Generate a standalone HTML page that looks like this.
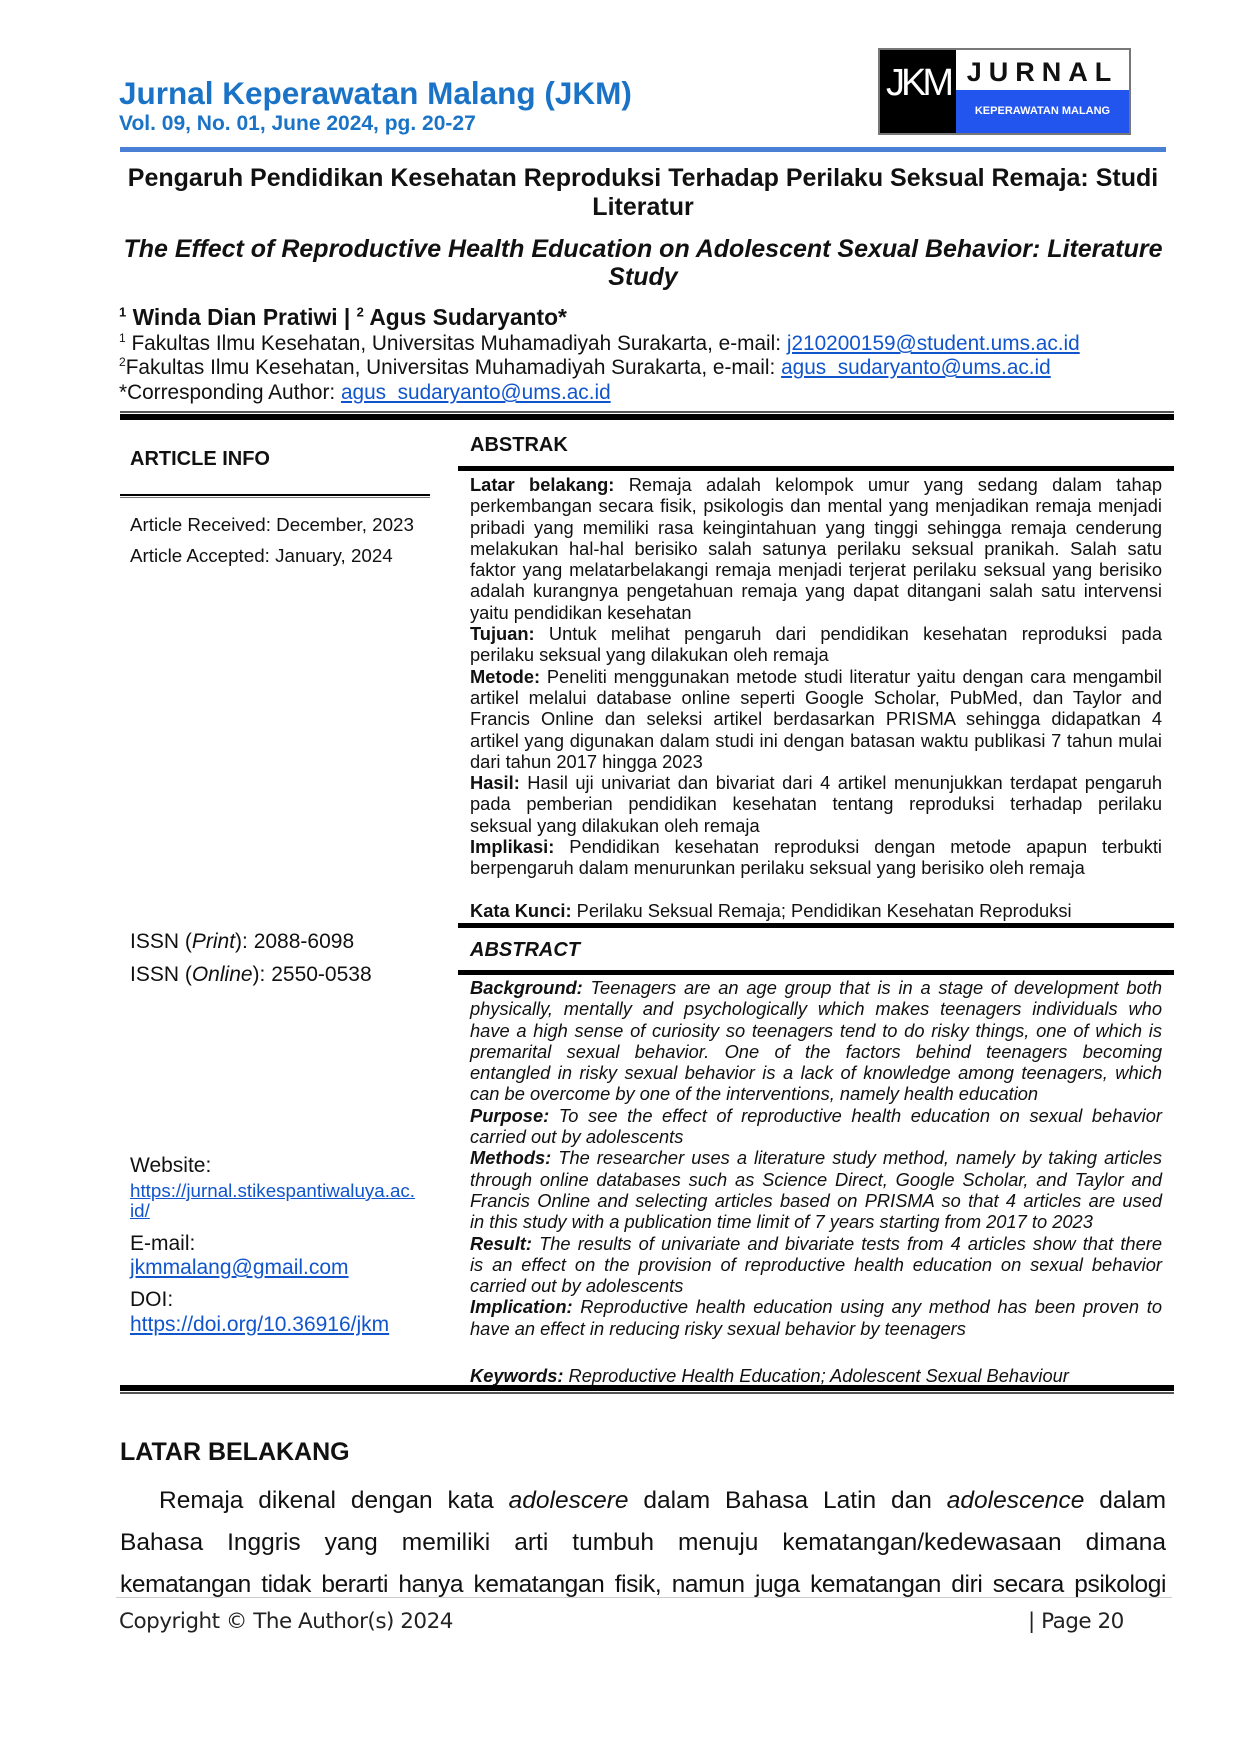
<!DOCTYPE html>
<html><head><meta charset="utf-8">
<style>
*{margin:0;padding:0;box-sizing:border-box}
body{width:1240px;height:1754px;background:#fff;position:relative;font-family:"Liberation Sans",Arial,sans-serif;color:#111;overflow:hidden}
.a{position:absolute;white-space:nowrap}
.blk{position:absolute;left:470px;width:692px;font-size:18.3px;line-height:21.3px}
.blk div{text-align:justify;text-align-last:justify;white-space:nowrap}
.blk div.l{text-align-last:left}
.it{font-style:italic}
a,.lnk{color:#1155cc;text-decoration:underline}
.ln{position:absolute;background:#000}
</style></head><body>
<div class="a" style="left:119px;top:75px;font-size:31.5px;font-weight:bold;color:#1a73c6">Jurnal Keperawatan Malang (JKM)</div>
<div class="a" style="left:119px;top:112px;font-size:21px;font-weight:bold;color:#1a73c6">Vol. 09, No. 01, June 2024, pg. 20-27</div>
<div style="position:absolute;left:878px;top:48px;width:253px;height:87px;border:2px solid #777;background:#000">
 <div style="position:absolute;left:76px;top:0;right:0;height:40px;background:#fff;font-weight:bold;font-size:27px;letter-spacing:7px;text-align:center;line-height:44px;color:#111">JURNAL</div>
 <div style="position:absolute;left:76px;top:40px;right:0;bottom:0;background:#2255ee;color:#fff;font-size:11px;font-weight:bold;text-align:center;line-height:43px">KEPERAWATAN MALANG</div>
 <div style="position:absolute;left:0;top:12px;width:76px;color:#fff;font-size:38px;letter-spacing:-4px;text-align:center">JKM</div>
</div>
<div class="ln" style="left:120px;top:147px;width:1046px;height:5px;background:#4a7fd6"></div>
<div class="a" style="left:80px;width:1126px;text-align:center;top:164px;font-size:25px;font-weight:bold;line-height:29px">Pengaruh Pendidikan Kesehatan Reproduksi Terhadap Perilaku Seksual Remaja: Studi<br>Literatur</div>
<div class="a" style="left:80px;width:1126px;text-align:center;top:235px;font-size:25px;font-weight:bold;font-style:italic;line-height:28px">The Effect of Reproductive Health Education on Adolescent Sexual Behavior: Literature<br>Study</div>
<div class="a" style="left:119px;top:304px;font-size:22.8px;font-weight:bold"><sup style="font-size:13px">1</sup> Winda Dian Pratiwi | <sup style="font-size:13px">2</sup> Agus Sudaryanto*</div>
<div class="a" style="left:119px;top:331px;font-size:20.8px"><sup style="font-size:12px">1</sup> Fakultas Ilmu Kesehatan, Universitas Muhamadiyah Surakarta, e-mail: <span class="lnk">j210200159@student.ums.ac.id</span></div>
<div class="a" style="left:119px;top:355px;font-size:20.8px"><sup style="font-size:12px">2</sup>Fakultas Ilmu Kesehatan, Universitas Muhamadiyah Surakarta, e-mail: <span class="lnk">agus_sudaryanto@ums.ac.id</span></div>
<div class="a" style="left:119px;top:381px;font-size:20.8px">*Corresponding Author: <span class="lnk">agus_sudaryanto@ums.ac.id</span></div>
<div class="ln" style="left:120px;top:411px;width:1054px;height:2px;background:#555"></div>
<div class="ln" style="left:120px;top:414px;width:1054px;height:6px"></div>

<div class="a" style="left:130px;top:448px;font-size:20px;font-weight:bold">ARTICLE INFO</div>
<div class="ln" style="left:120px;top:494px;width:310px;height:2px"></div>
<div class="ln" style="left:120px;top:497px;width:310px;height:1px;background:#777"></div>
<div class="a" style="left:130px;top:514px;font-size:18.8px">Article Received: December, 2023</div>
<div class="a" style="left:130px;top:545px;font-size:18.8px">Article Accepted: January, 2024</div>

<div class="a" style="left:470px;top:434px;font-size:20px;font-weight:bold">ABSTRAK</div>
<div class="ln" style="left:458px;top:466px;width:716px;height:5px"></div>
<div class="blk" style="top:474px">
<div><b>Latar belakang:</b> Remaja adalah kelompok umur yang sedang dalam tahap</div>
<div>perkembangan secara fisik, psikologis dan mental yang menjadikan remaja menjadi</div>
<div>pribadi yang memiliki rasa keingintahuan yang tinggi sehingga remaja cenderung</div>
<div>melakukan hal-hal berisiko salah satunya perilaku seksual pranikah. Salah satu</div>
<div>faktor yang melatarbelakangi remaja menjadi terjerat perilaku seksual yang berisiko</div>
<div>adalah kurangnya pengetahuan remaja yang dapat ditangani salah satu intervensi</div>
<div class="l">yaitu pendidikan kesehatan</div>
<div><b>Tujuan:</b> Untuk melihat pengaruh dari pendidikan kesehatan reproduksi pada</div>
<div class="l">perilaku seksual yang dilakukan oleh remaja</div>
<div><b>Metode:</b> Peneliti menggunakan metode studi literatur yaitu dengan cara mengambil</div>
<div>artikel melalui database online seperti Google Scholar, PubMed, dan Taylor and</div>
<div>Francis Online dan seleksi artikel berdasarkan PRISMA sehingga didapatkan 4</div>
<div>artikel yang digunakan dalam studi ini dengan batasan waktu publikasi 7 tahun mulai</div>
<div class="l">dari tahun 2017 hingga 2023</div>
<div><b>Hasil:</b> Hasil uji univariat dan bivariat dari 4 artikel menunjukkan terdapat pengaruh</div>
<div>pada pemberian pendidikan kesehatan tentang reproduksi terhadap perilaku</div>
<div class="l">seksual yang dilakukan oleh remaja</div>
<div><b>Implikasi:</b> Pendidikan kesehatan reproduksi dengan metode apapun terbukti</div>
<div class="l">berpengaruh dalam menurunkan perilaku seksual yang berisiko oleh remaja</div>
</div>
<div class="a" style="left:470px;top:900px;font-size:18.3px"><b>Kata Kunci:</b> Perilaku Seksual Remaja; Pendidikan Kesehatan Reproduksi</div>
<div class="ln" style="left:458px;top:923px;width:716px;height:5px"></div>

<div class="a" style="left:130px;top:930px;font-size:21px">ISSN (<i>Print</i>): 2088-6098</div>
<div class="a" style="left:130px;top:963px;font-size:21px">ISSN (<i>Online</i>): 2550-0538</div>
<div class="a" style="left:470px;top:939px;font-size:20px;font-weight:bold;font-style:italic">ABSTRACT</div>
<div class="ln" style="left:458px;top:970px;width:716px;height:5px"></div>
<div class="blk it" style="top:977px">
<div><b>Background:</b> Teenagers are an age group that is in a stage of development both</div>
<div>physically, mentally and psychologically which makes teenagers individuals who</div>
<div>have a high sense of curiosity so teenagers tend to do risky things, one of which is</div>
<div>premarital sexual behavior. One of the factors behind teenagers becoming</div>
<div>entangled in risky sexual behavior is a lack of knowledge among teenagers, which</div>
<div class="l">can be overcome by one of the interventions, namely health education</div>
<div><b>Purpose:</b> To see the effect of reproductive health education on sexual behavior</div>
<div class="l">carried out by adolescents</div>
<div><b>Methods:</b> The researcher uses a literature study method, namely by taking articles</div>
<div>through online databases such as Science Direct, Google Scholar, and Taylor and</div>
<div>Francis Online and selecting articles based on PRISMA so that 4 articles are used</div>
<div class="l">in this study with a publication time limit of 7 years starting from 2017 to 2023</div>
<div><b>Result:</b> The results of univariate and bivariate tests from 4 articles show that there</div>
<div>is an effect on the provision of reproductive health education on sexual behavior</div>
<div class="l">carried out by adolescents</div>
<div><b>Implication:</b> Reproductive health education using any method has been proven to</div>
<div class="l">have an effect in reducing risky sexual behavior by teenagers</div>
</div>
<div class="a it" style="left:470px;top:1365px;font-size:18.3px"><b>Keywords:</b> Reproductive Health Education; Adolescent Sexual Behaviour</div>

<div class="a" style="left:130px;top:1154px;font-size:21px">Website:</div>
<div class="a lnk" style="left:130px;top:1180px;font-size:18.8px">https://jurnal.stikespantiwaluya.ac.</div>
<div class="a lnk" style="left:130px;top:1200px;font-size:18.8px">id/</div>
<div class="a" style="left:130px;top:1232px;font-size:21px">E-mail:</div>
<div class="a lnk" style="left:130px;top:1256px;font-size:21px">jkmmalang@gmail.com</div>
<div class="a" style="left:130px;top:1288px;font-size:21px">DOI:</div>
<div class="a lnk" style="left:130px;top:1313px;font-size:21px">https://doi.org/10.36916/jkm</div>

<div class="ln" style="left:120px;top:1385px;width:1054px;height:6px"></div>
<div class="ln" style="left:120px;top:1392px;width:1054px;height:2px;background:#555"></div>

<div class="a" style="left:120px;top:1438px;font-size:25px;font-weight:bold">LATAR BELAKANG</div>
<div style="position:absolute;left:120px;width:1046px;top:1480px;font-size:24.5px;line-height:42px">
<div style="text-align:justify;text-align-last:justify;white-space:nowrap;padding-left:39px">Remaja dikenal dengan kata <i>adolescere</i> dalam Bahasa Latin dan <i>adolescence</i> dalam</div>
<div style="text-align:justify;text-align-last:justify;white-space:nowrap">Bahasa Inggris yang memiliki arti tumbuh menuju kematangan/kedewasaan dimana</div>
<div style="text-align:justify;text-align-last:justify;white-space:nowrap;letter-spacing:-0.4px">kematangan tidak berarti hanya kematangan fisik, namun juga kematangan diri secara psikologi</div>
</div>
<div class="ln" style="left:116px;top:1597px;width:1056px;height:1px;background:#ccc"></div>
<div class="a" style="left:119px;top:1609px;font-size:21.5px;font-family:'DejaVu Sans',sans-serif;letter-spacing:-0.5px;color:#222">Copyright © The Author(s) 2024</div>
<div class="a" style="left:1028px;top:1609px;font-size:21.5px;font-family:'DejaVu Sans',sans-serif;letter-spacing:-0.5px;color:#222">| Page 20</div>
</body></html>
